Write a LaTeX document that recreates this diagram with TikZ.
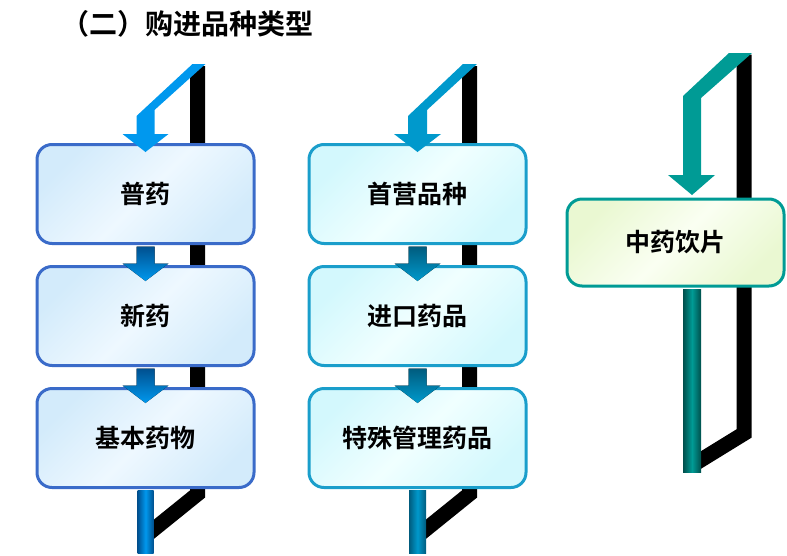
\documentclass[tikz,border=0pt]{standalone}
\usepackage{fontspec}
\usetikzlibrary{calc,positioning,backgrounds}
\newfontfamily\cjk{Noto Sans CJK SC}[BoldFont=* Bold]

\definecolor{puBorder}{HTML}{3A6BC9}
\definecolor{puLight}{HTML}{D3EBFB}
\definecolor{puPale}{HTML}{EEF8FF}
\definecolor{puArrow}{HTML}{0098EE}
\definecolor{puDark}{HTML}{00508F}
\definecolor{syBorder}{HTML}{1A9ECB}
\definecolor{syLight}{HTML}{D3F8FD}
\definecolor{syPale}{HTML}{F0FFFF}
\definecolor{syArrow}{HTML}{0099CC}
\definecolor{syDark}{HTML}{005C7E}
\definecolor{zyBorder}{HTML}{009B95}
\definecolor{zyLight}{HTML}{EAF8D2}
\definecolor{zyPale}{HTML}{FAFFF2}
\definecolor{zyArrow}{HTML}{009B95}
\definecolor{zyDark}{HTML}{004F4C}

\begin{document}
\begin{tikzpicture}[x=1pt, y=-1pt,
    box/.style={draw, line width=3pt, rounded corners=15pt, minimum width=217pt,
      minimum height=99pt, inner sep=0pt, font=\cjk\bfseries\fontsize{25}{30}\selectfont},
    pubox/.style={box, draw=puBorder, top color=puLight, bottom color=puLight,
      middle color=puPale, shading angle=45},
    sybox/.style={box, draw=syBorder, top color=syLight, bottom color=syLight,
      middle color=syPale, shading angle=45},
    zybox/.style={box, draw=zyBorder, minimum height=87pt, top color=zyLight,
      bottom color=zyLight, middle color=zyPale, shading angle=45},
    shadowbar/.style={line width=15pt, black, line join=miter}]
  \useasboundingbox (0,0) rectangle (787,555);

  % Title
  \node[anchor=west, inner sep=0pt, font=\cjk\bfseries\fontsize{28}{32}\selectfont] (title) at (61,24) {（二）购进品种类型};

  % Column 1
  \node[pubox] (pu) at (145.5,194) {普药};
  \node[pubox, below=20pt of pu] (xin) {新药};
  \node[pubox, below=20pt of xin] (jb) {基本药物};

  % Column 2
  \node[sybox] (sy) at (417.5,194) {首营品种};
  \node[sybox, below=20pt of sy] (jk) {进口药品};
  \node[sybox, below=20pt of jk] (ts) {特殊管理药品};

  % Column 3
  \node[zybox] (zy) at (675.5,242.5) {中药饮片};

  % Black shadow bars
  \begin{scope}[on background layer]
    \draw[shadowbar] ($(pu.north)+(52,-77)$) -- ($(jb.south)+(52,5)$) -- ($(jb.south)+(0,47)$);
    \draw[shadowbar] ($(sy.north)+(52,-77)$) -- ($(ts.south)+(52,5)$) -- ($(ts.south)+(0,47)$);
    \draw[shadowbar] ($(zy.north)+(68.5,-143)$) -- ($(zy.south)+(68.5,146)$) -- ($(zy.south)+(16.5,178)$);
  \end{scope}

  % Incoming bands
  \begin{scope}[shift={(pu.north)}]
    \fill[puArrow] (-9,-27) -- (47,-79) -- (60,-79) -- (9,-33) -- (9,-9) -- (23,-9)
      -- (0,9) -- (-23,-9) -- (-9,-9) -- cycle;
  \end{scope}
  \begin{scope}[shift={(sy.north)}]
    \fill[syArrow] (-9.5,-27) -- (45.5,-79) -- (59.5,-79) -- (9.5,-33) -- (9.5,-9) -- (23.5,-9)
      -- (0,9) -- (-23.5,-9) -- (-9.5,-9) -- cycle;
  \end{scope}
  \begin{scope}[shift={(zy.north)}]
    \fill[zyArrow] (7.5,-101.5) -- (53.5,-144.5) -- (76.5,-144.5) -- (25.5,-99.5) -- (25.5,-22.5)
      -- (39.5,-22.5) -- (16.5,-2.5) -- (-7.5,-22.5) -- (7.5,-22.5) -- cycle;
  \end{scope}

  % Arrows between boxes
  \foreach \a/\c/\d in {pu/puArrow/puDark, xin/puArrow/puDark, sy/syArrow/syDark, jk/syArrow/syDark}
    \fill[top color=\d, bottom color=\c] ($(\a.south)+(-9,1.5)$) -- ++(0,17) -- ++(-14,0)
      -- ($(\a.south)+(0,36)$) -- ($(\a.south)+(23,18.5)$) -- ++(-14,0) -- ++(0,-17) -- cycle;

  % Outgoing stems
  \fill[left color=puDark, right color=puDark, middle color=puArrow] ($(jb.south)+(-8,1.5)$) rectangle ($(jb.south)+(8,64)$);
  \fill[left color=syDark, right color=syDark, middle color=syArrow] ($(ts.south)+(-8.5,1.5)$) rectangle ($(ts.south)+(8.5,64)$);
  \fill[left color=zyDark, right color=zyDark, middle color=zyArrow] ($(zy.south)+(7.5,1.5)$) rectangle ($(zy.south)+(25.5,184.5)$);
\end{tikzpicture}
\end{document}
